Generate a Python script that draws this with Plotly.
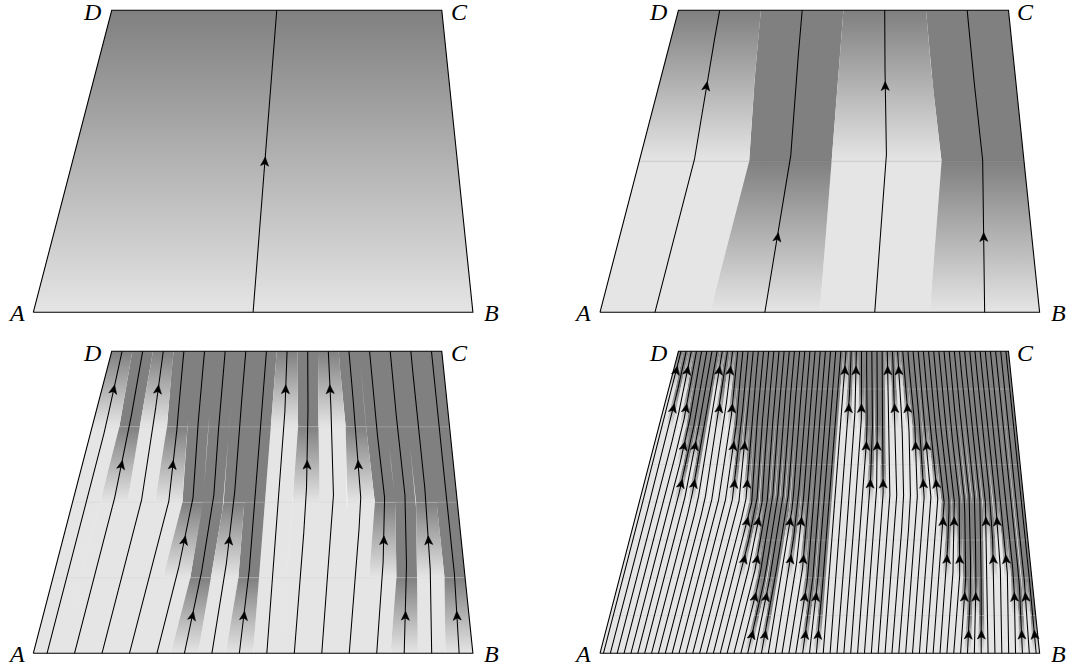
import numpy as np
import plotly.graph_objects as go

# ---------------- data ----------------
panel_levels = [0, 1, 2, 3]      # refinement level of each panel (4**n curves, 2**n stages)
branch = 4                       # strips created by one refinement
compression = 0.25               # relative narrowing of an active strip at the end of its stage
shade_light = "#e5e5e5"
shade_dark = "#808080"
corner_names = ["A", "B", "C", "D"]

# ------------- geometry / layout -------------
FIG_W, FIG_H = 1084, 671
panel_origin = [(33.3, 312.3), (600.0, 312.3), (33.3, 653.3), (600.0, 653.3)]  # pixel of corner A
PW, PH = 439.6, 302.0
D_OFF, C_OFF = 0.1784, 0.9292
XR = (-0.07, 1.1)
YR = (-0.03, 1.03)
label_shift = {"A": (-17, -1), "B": (19, -1), "C": (17.5, -1.5), "D": (-20, -1.5)}


def strip_bounds(t, n):
    if n == 0:
        return np.array([0.0, 1.0])
    tent = 1 - abs(2 * t - 1)
    w = np.array([1.0 if j % 2 == 0 else 1 - compression * tent for j in range(branch)])
    cb = np.concatenate([[0.0], np.cumsum(w)]) / w.sum()
    out = []
    for j in range(branch):
        t0, t1 = (0.0, 0.5) if j % 2 == 1 else (0.5, 1.0)
        if t0 <= t <= t1:
            sub = strip_bounds((t - t0) / (t1 - t0), n - 1)
        else:
            sub = np.linspace(0, 1, branch ** (n - 1) + 1)
        seg = cb[j] + sub * (cb[j + 1] - cb[j])
        out.append(seg if j == branch - 1 else seg[:-1])
    return np.concatenate(out)


def active_stage(k, n):
    st = 0
    for i in range(n):
        d = (k // branch ** (n - 1 - i)) % branch
        b = 1 - (d % 2)
        st += b * 2 ** (n - 1 - i)
    return st


def to_xy(s, t):
    s = np.asarray(s); t = np.asarray(t)
    return (1 - t) * s + t * (D_OFF + s * (C_OFF - D_OFF)), t


fig = go.Figure()
annotations = []
for p, n in enumerate(panel_levels):
    ax = "" if p == 0 else str(p + 1)
    xa, ya = "x" + ax, "y" + ax
    N = branch ** n
    S = 2 ** n
    T = np.linspace(0, 1, 257)
    Bd = np.array([strip_bounds(t, n) for t in T])
    stages = [active_stage(k, n) for k in range(N)]

    def poly(k, ta, tb):
        m = (T >= ta - 1e-12) & (T <= tb + 1e-12)
        tt = T[m]
        xl, yl = to_xy(Bd[m, k], tt)
        xr, yr = to_xy(Bd[m, k + 1], tt)
        xs = list(xl) + list(xr[::-1]) + [xl[0], None]
        ys = list(yl) + list(yr[::-1]) + [yl[0], None]
        return xs, ys

    lx, ly, dx_, dy_ = [], [], [], []
    grad = {j: ([], []) for j in range(S)}
    for k in range(N):
        st = stages[k]
        ta, tb = st / S, (st + 1) / S
        if ta > 0:
            a, b = poly(k, 0, ta); lx += a; ly += b
        if tb < 1:
            a, b = poly(k, tb, 1); dx_ += a; dy_ += b
        a, b = poly(k, ta, tb); grad[st][0].extend(a); grad[st][1].extend(b)

    common = dict(mode="lines", line=dict(width=0, color="rgba(0,0,0,0)"), fill="toself",
                  hoverinfo="skip", showlegend=False, xaxis=xa, yaxis=ya)
    if lx:
        fig.add_trace(go.Scatter(x=lx, y=ly, fillcolor=shade_light, **common))
    if dx_:
        fig.add_trace(go.Scatter(x=dx_, y=dy_, fillcolor=shade_dark, **common))
    for j in range(S):
        gx, gy = grad[j]
        fig.add_trace(go.Scatter(x=gx, y=gy,
                                 fillgradient=dict(type="vertical", start=j / S, stop=(j + 1) / S,
                                                   colorscale=[[0, shade_light], [1, shade_dark]]),
                                 **common))

    # stage seams
    sx, sy = [], []
    for j in range(1, S):
        t = j / S
        x0, _ = to_xy(0.0, t); x1, _ = to_xy(1.0, t)
        sx += [float(x0), float(x1), None]; sy += [t, t, None]
    if sx:
        col = "rgba(0,0,0,0.14)" if n == 1 else "rgba(205,205,205,0.35)"
        fig.add_trace(go.Scatter(x=sx, y=sy, mode="lines", line=dict(width=1, color=col),
                                 hoverinfo="skip", showlegend=False, xaxis=xa, yaxis=ya))

    # curves
    cx, cy = [], []
    centers = (Bd[:, :-1] + Bd[:, 1:]) / 2
    for k in range(N):
        x, y = to_xy(centers[:, k], T)
        cx += list(x) + [None]; cy += list(y) + [None]
    fig.add_trace(go.Scatter(x=cx, y=cy, mode="lines", line=dict(width=1.05, color="black"),
                             hoverinfo="skip", showlegend=False, xaxis=xa, yaxis=ya))

    # arrows
    axs, ays = [], []
    for k in range(N):
        tm = (stages[k] + 0.5) / S
        e = 1 / 1024
        pts = []
        for tt in (tm - e, tm, tm + e):
            bb = strip_bounds(tt, n)
            sc = (bb[k] + bb[k + 1]) / 2
            pts.append(to_xy(sc, tt))
        (xa0, ya0), (xm, ym), (xa1, ya1) = pts
        ux, uy = (xa1 - xa0) * PW, (ya1 - ya0) * PH
        L = np.hypot(ux, uy); ux, uy = ux / L, uy / L
        vx, vy = uy, -ux  # perpendicular
        shape = [(4.2, 0.0), (-4.6, 4.0), (-2.4, 0.0), (-4.6, -4.0), (4.2, 0.0)]
        for (a, b) in shape:
            px = a * ux + b * vx
            py = a * uy + b * vy
            axs.append(float(xm) + px / PW)
            ays.append(float(ym) + py / PH)
        axs.append(None); ays.append(None)
    fig.add_trace(go.Scatter(x=axs, y=ays, mode="lines", fill="toself", fillcolor="black",
                             line=dict(width=0.6, color="black"), hoverinfo="skip",
                             showlegend=False, xaxis=xa, yaxis=ya))

    # outline
    fig.add_trace(go.Scatter(x=[0, 1, C_OFF, D_OFF, 0], y=[0, 0, 1, 1, 0], mode="lines",
                             line=dict(width=1.1, color="black"), hoverinfo="skip",
                             showlegend=False, xaxis=xa, yaxis=ya))

    corners = {"A": (0, 0), "B": (1, 0), "C": (C_OFF, 1), "D": (D_OFF, 1)}
    for name in corner_names:
        px, py = corners[name]
        sx_, sy_ = label_shift[name]
        annotations.append(dict(x=px, y=py, xref=xa, yref=ya, text="<i>%s</i>" % name,
                                showarrow=False, xshift=sx_, yshift=sy_,
                                font=dict(family="Liberation Serif", size=24, color="black")))

    ox, oy = panel_origin[p]
    xd = [(ox + XR[0] * PW) / FIG_W, (ox + XR[1] * PW) / FIG_W]
    yd = [1 - (oy - YR[0] * PH) / FIG_H, 1 - (oy - YR[1] * PH) / FIG_H]
    fig.update_layout(**{
        "xaxis" + ax: dict(domain=[max(0, xd[0]), min(1, xd[1])], range=list(XR), visible=False,
                           anchor=ya, fixedrange=True),
        "yaxis" + ax: dict(domain=[max(0, yd[0]), min(1, yd[1])], range=list(YR), visible=False,
                           anchor=xa, fixedrange=True),
    })

fig.update_layout(width=FIG_W, height=FIG_H, margin=dict(l=0, r=0, t=0, b=0),
                  paper_bgcolor="white", plot_bgcolor="white", annotations=annotations,
                  showlegend=False)
fig.write_html("out.html", config={"displayModeBar": False},
               post_script="document.body.style.margin='0px';document.body.style.overflow='hidden';")
